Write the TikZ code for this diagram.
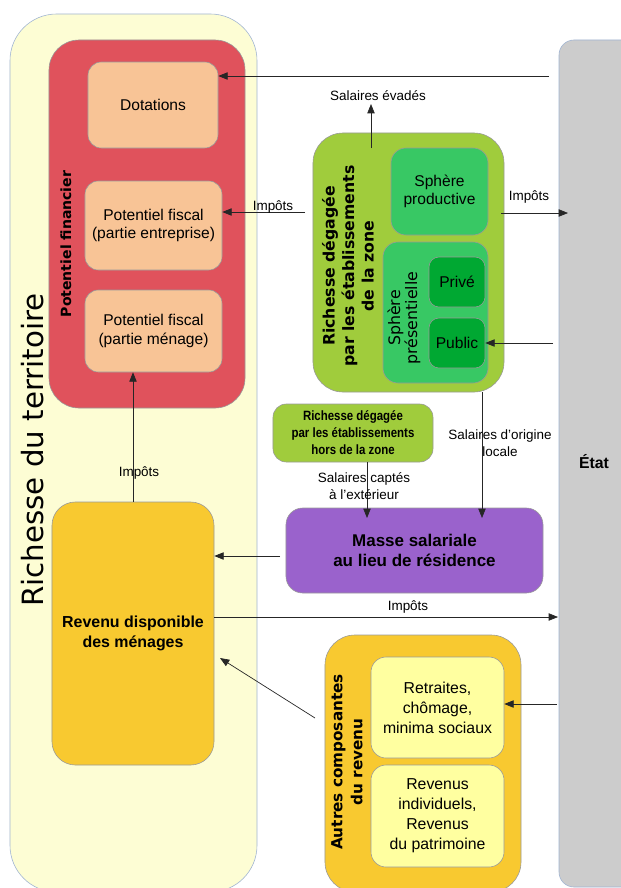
\documentclass[tikz,border=0pt]{standalone}
\usepackage{fontspec}
\setmainfont{Liberation Sans}
\newfontfamily\dejavu{DejaVu Sans}
\usetikzlibrary{arrows.meta}

\definecolor{terrfill}{RGB}{253,253,212}
\definecolor{terrline}{RGB}{160,180,210}
\definecolor{finred}{RGB}{224,82,92}
\definecolor{peach}{RGB}{248,196,150}
\definecolor{gold}{RGB}{248,201,48}
\definecolor{violet}{RGB}{154,98,204}
\definecolor{lime}{RGB}{160,204,60}
\definecolor{midgreen}{RGB}{56,200,100}
\definecolor{darkgreen}{RGB}{0,168,50}
\definecolor{etatgray}{RGB}{204,204,204}
\definecolor{paleyellow}{RGB}{255,255,160}

\begin{document}
\begin{tikzpicture}[x=0.03cm, y=-0.03cm,
    box/.style={draw=black!40, line width=0.5pt, align=center, inner sep=0pt,
                font=\fontsize{13.3}{15.5}\selectfont},
    vtxt/.style={rotate=90, align=center, inner sep=0pt},
    lbl/.style={align=center, inner sep=1pt, font=\fontsize{11.5}{14}\selectfont},
    arr/.style={draw=black!85, line width=0.6pt, -{Triangle[length=0.28cm, width=0.22cm]}}]
    \useasboundingbox (0,0) rectangle (621,888);

    % territoire et Etat
    \node[box, fill=terrfill, draw=terrline, rounded corners=1.4cm,
          minimum width=7.41cm, minimum height=26.34cm] (terr) at (133.5,453) {};
    \node[vtxt, font=\dejavu\fontsize{25}{30}\selectfont] (terrtxt) at (33,450) {Richesse du territoire};
    \node[box, fill=etatgray, draw=terrline, rounded corners=0.45cm,
          minimum width=2.43cm, minimum height=25.41cm] (etat) at (599.5,463.5) {};
    \node[font=\bfseries\fontsize{13.5}{16}\selectfont] (etattxt) at (594,462) {État};

    % potentiel financier
    \node[box, fill=finred, rounded corners=0.9cm, minimum width=5.88cm, minimum height=11.04cm] (fin) at (147,224) {};
    \node[vtxt, font=\dejavu\bfseries\fontsize{12}{14}\selectfont] (fintxt) at (66,244) {Potentiel financier};
    \node[box, fill=peach, rounded corners=0.4cm, minimum width=3.9cm, minimum height=2.58cm] (dot) at (153,105) {Dotations};
    \node[box, fill=peach, rounded corners=0.4cm, minimum width=4.11cm, minimum height=2.67cm] (pfe) at (153.5,225.5) {Potentiel fiscal\\(partie entreprise)};
    \node[box, fill=peach, rounded corners=0.4cm, minimum width=4.11cm, minimum height=2.46cm] (pfm) at (153.5,331) {Potentiel fiscal\\(partie ménage)};

    % richesse de la zone
    \node[box, fill=lime, rounded corners=0.9cm, minimum width=5.73cm, minimum height=7.77cm] (rz) at (408.5,262.5) {};
    \node[vtxt, font=\dejavu\bfseries\fontsize{13.4}{16.6}\selectfont] (rztxt) at (348,266)
        {Richesse dégagée\\par les établissements\\de la zone};
    \node[box, fill=midgreen, rounded corners=0.45cm, minimum width=2.91cm, minimum height=2.61cm] (sp) at (439.5,191.5) {Sphère\\productive};
    \node[box, fill=midgreen, rounded corners=0.45cm, minimum width=3.15cm, minimum height=4.23cm] (spres) at (435.5,312.5) {};
    \node[vtxt, font=\dejavu\fontsize{13.5}{13.5}\selectfont] (sprestxt) at (404,318) {Sphère\\présentielle};
    \node[box, fill=darkgreen, rounded corners=0.3cm, minimum width=1.68cm, minimum height=1.5cm] (prive) at (457,282) {Privé};
    \node[box, fill=darkgreen, rounded corners=0.3cm, minimum width=1.68cm, minimum height=1.5cm] (public) at (457,343) {Public};

    % hors zone et masse salariale
    \node[box, fill=lime, rounded corners=0.4cm, minimum width=4.8cm, minimum height=1.74cm] (rhz) at (353,433) {};
    \node[align=center, xscale=0.85, font=\bfseries\fontsize{11.5}{14.5}\selectfont] (rhztxt) at (353,433)
        {Richesse dégagée\\par les établissements\\hors de la zone};
    \node[box, fill=violet, rounded corners=0.5cm, minimum width=7.71cm, minimum height=2.55cm,
          font=\bfseries\fontsize{14.5}{16.5}\selectfont] (masse) at (414.5,550.5) {Masse salariale\\au lieu de résidence};

    % revenus
    \node[box, fill=gold, rounded corners=0.7cm, minimum width=4.86cm, minimum height=7.89cm,
          font=\bfseries\fontsize{13.6}{17}\selectfont] (rev) at (133,633.5) {Revenu disponible\\des ménages};
    \node[box, fill=gold, rounded corners=0.9cm, minimum width=5.88cm, minimum height=7.71cm] (autres) at (423,763.5) {};
    \node[vtxt, font=\dejavu\bfseries\fontsize{13}{17}\selectfont] (autrestxt) at (347,762) {Autres composantes\\du revenu};
    \node[box, fill=paleyellow, rounded corners=0.45cm, minimum width=3.99cm, minimum height=3.03cm,
          font=\fontsize{13.5}{17}\selectfont] (ret) at (437.5,707.5) {Retraites,\\chômage,\\minima sociaux};
    \node[box, fill=paleyellow, rounded corners=0.45cm, minimum width=3.99cm, minimum height=3.06cm,
          font=\fontsize{13.5}{17}\selectfont] (revi) at (437.5,816) {Revenus\\individuels,\\Revenus\\du patrimoine};

    % flux
    \coordinate (e1) at (549,76);
    \coordinate (i1) at (305,212);
    \coordinate (i2a) at (501,213);
    \coordinate (i2b) at (568,213);
    \coordinate (e2) at (553,343);
    \coordinate (eva) at (371,148);
    \coordinate (evb) at (371,104);
    \coordinate (loc) at (482,518);
    \coordinate (capt) at (367,518);
    \coordinate (m1) at (280,556);
    \coordinate (i3) at (558,617);
    \coordinate (e3) at (557,704);
    \coordinate (a1) at (315,718);
    \coordinate (a2) at (220,658);

    \draw[arr] (e1) -- (e1 -| dot.east);
    \draw[arr] (i1) -- (i1 -| pfe.east);
    \draw[arr] (i2a) -- (i2b);
    \draw[arr] (e2) -- (public.east);
    \draw[arr] (eva) -- (evb);
    \draw[arr] (loc |- rz.south) -- (loc);
    \draw[arr] (capt |- rhz.south) -- (capt);
    \draw[arr] (m1) -- (m1 -| rev.east);
    \draw[arr] (i3 -| rev.east) -- (i3);
    \draw[arr] (e3) -- (e3 -| ret.east);
    \draw[arr] (a1) -- (a2);
    \draw[arr] (rev.north) -- (rev.north |- pfm.south);

    % libelles
    \node[lbl] (levad) at (378,96) {Salaires évadés};
    \node[lbl] (limp1) at (273,207) {Impôts};
    \node[lbl] (limp2) at (529,197) {Impôts};
    \node[lbl] (limp3) at (139,473) {Impôts};
    \node[lbl] (lloc) at (500,443) {Salaires d'origine\\locale};
    \node[lbl] (lcapt) at (364,486) {Salaires captés\\à l'extérieur};
    \node[lbl] (limp4) at (408,607) {Impôts};
\end{tikzpicture}
\end{document}
